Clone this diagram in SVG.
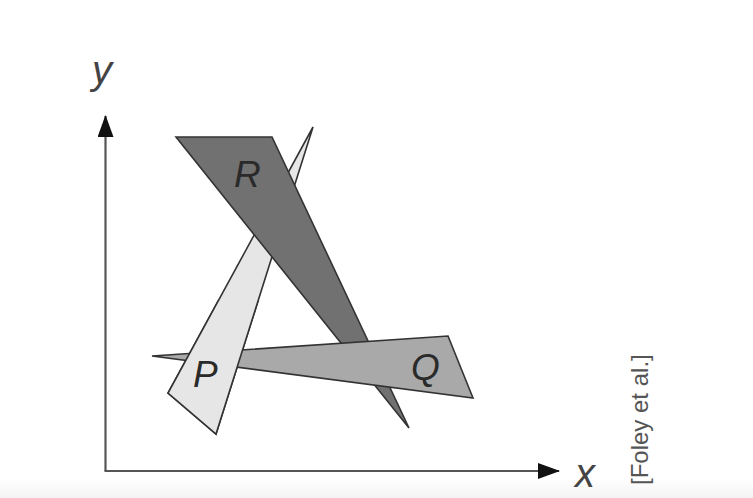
<svg xmlns="http://www.w3.org/2000/svg" width="753" height="498" viewBox="0 0 753 498">
<defs>
<style>
.poly{stroke:#333;stroke-width:1.6;stroke-linejoin:miter}
.lbl{font-family:"Liberation Sans",Arial,sans-serif;font-style:italic;fill:#2a2a2a}
.axis{stroke:#555;stroke-width:2.2;fill:none}
</style>
<marker id="arr" markerWidth="22" markerHeight="16" viewBox="0 0 22 16" refX="21" refY="8" orient="auto" markerUnits="userSpaceOnUse">
<path d="M0,0 L22,8 L0,16 Z" fill="#111"/>
</marker>
<clipPath id="lowP"><rect x="0" y="300" width="753" height="198"/></clipPath>
<linearGradient id="bg" x1="0" y1="0" x2="0" y2="1">
<stop offset="0" stop-color="#ffffff"/><stop offset="1" stop-color="#f3f3f3"/>
</linearGradient>
</defs>
<rect width="753" height="498" fill="#fff"/>
<rect x="0" y="478" width="753" height="20" fill="url(#bg)"/>
<g id="connectors">
<line class="axis" x1="105.5" y1="471" x2="105.5" y2="116" marker-end="url(#arr)"/>
<line class="axis" x1="104.5" y1="471" x2="559" y2="471" marker-end="url(#arr)"/>
</g>
<g id="P">
<polygon class="poly" points="313,127 168,393 216,434" fill="#e6e6e6"/>
</g>
<g id="R">
<polygon class="poly" points="176,137 272,137 409,428" fill="#717171"/>
<text class="lbl" x="234" y="187" font-size="37">R</text>
</g>
<g id="Q">
<polygon class="poly" points="152,356 448,336 473,398" fill="#a9a9a9"/>
<text class="lbl" x="411" y="380" font-size="37">Q</text>
</g>
<g id="P-front">
<polygon class="poly" points="313,127 168,393 216,434" fill="#e6e6e6" clip-path="url(#lowP)"/>
<text class="lbl" x="193" y="387" font-size="37">P</text>
</g>
<g id="labels">
<text class="lbl" x="92" y="84" font-size="40" fill="#444" style="fill:#444">y</text>
<text class="lbl" x="575" y="487" font-size="40" style="fill:#444">x</text>
<text x="0" y="0" transform="translate(648,485) rotate(-90)" font-family="Liberation Sans, Arial, sans-serif" font-size="24" fill="#555">[Foley et al.]</text>
</g>
</svg>
